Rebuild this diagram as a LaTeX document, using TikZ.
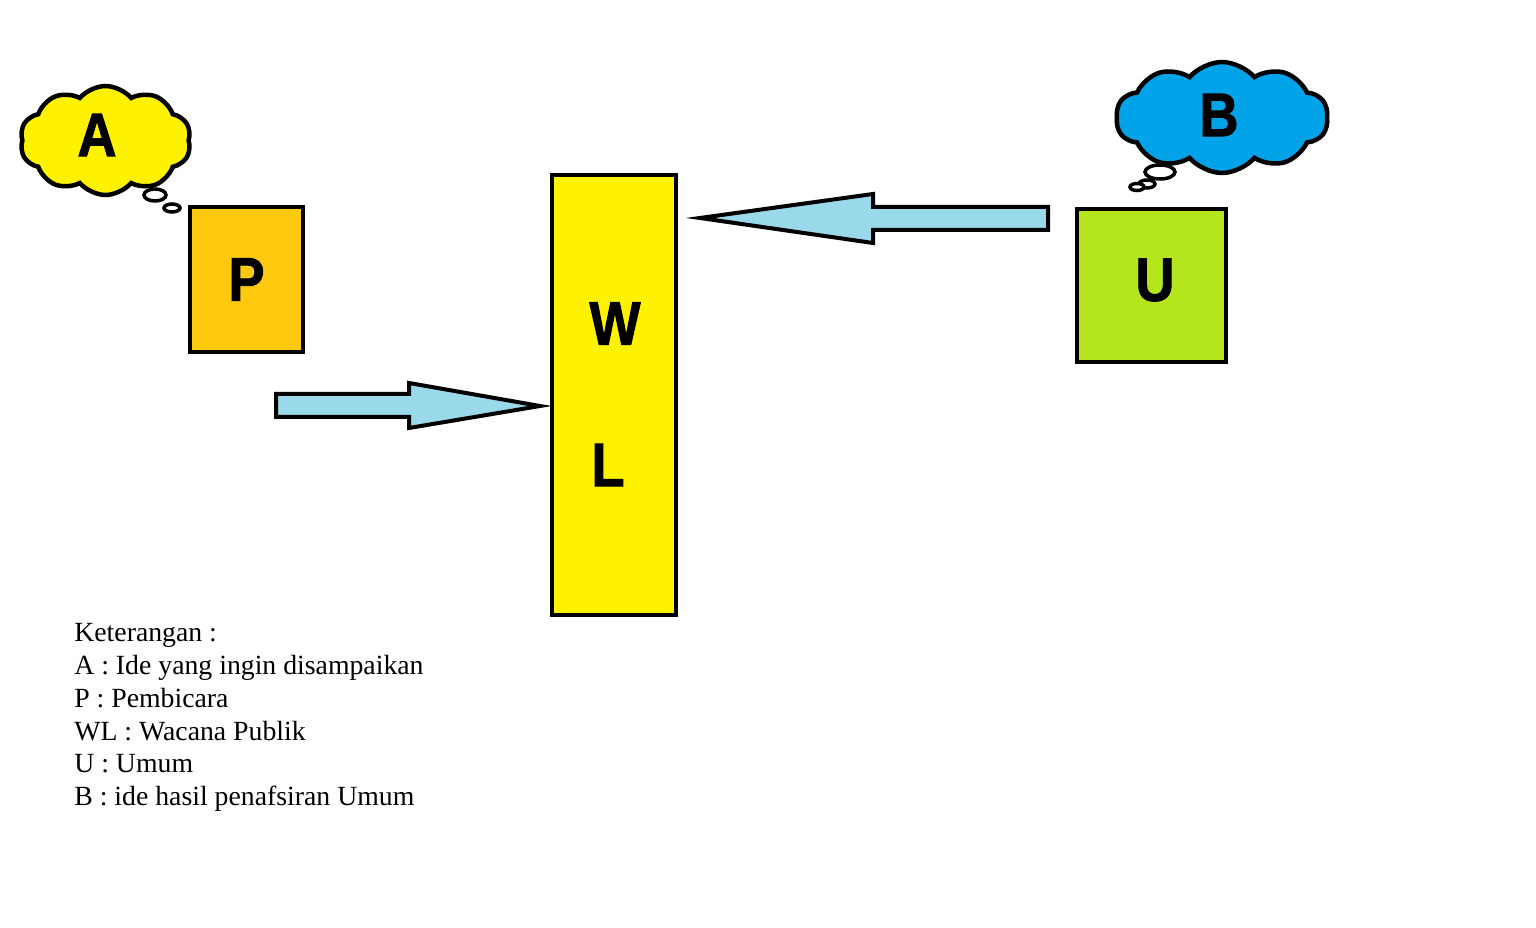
\documentclass[tikz,border=0pt]{standalone}
\usepackage{fontspec}
\setmainfont{Liberation Serif}
\newfontfamily\letterfont[FakeStretch=0.88,FakeBold=1.5]{Liberation Sans}
\usetikzlibrary{shapes.symbols}
\definecolor{pcol}{HTML}{FFC90E}
\definecolor{wlcol}{HTML}{FFF200}
\definecolor{ucol}{HTML}{B5E61D}
\definecolor{acol}{HTML}{FFF200}
\definecolor{bcol}{HTML}{00A2E8}
\definecolor{flowcol}{HTML}{99D9EA}
\begin{document}
\begin{tikzpicture}[x=0.02cm,y=-0.02cm,
    box/.style={draw,line width=0.08cm,inner sep=0pt},
    letter/.style={font=\letterfont\bfseries\fontsize{35}{40}\selectfont,inner sep=0pt},
    thought/.style={cloud,cloud puffs=10,cloud puff arc=100,draw,line width=0.09cm,inner sep=0pt},
    bubble/.style={draw,line width=0.07cm,fill=white},
    flow/.style={draw,line width=0.08cm,fill=flowcol,line join=miter}]
    \useasboundingbox (0,0) rectangle (1536,928);

    \node[box,fill=pcol,minimum width=2.26cm,minimum height=2.9cm,letter] (p) at (246.5,279.5) {P};
    \node[box,fill=wlcol,minimum width=2.48cm,minimum height=8.8cm] (wl) at (614,395) {};
    \node[letter] (w) at (615,323.5) {W};
    \node[letter] (l) at (608,465) {L};
    \node[box,fill=ucol,minimum width=2.98cm,minimum height=3.06cm] (u) at (1151.5,285.5) {};
    \node[letter] (ul) at (1155,280) {U};

    \node[thought,fill=acol,minimum width=3.42cm,minimum height=2.18cm] (ca) at (105.5,140.5) {};
    \node[letter] (a) at (97,135) {A};
    \draw[bubble] (155,195) ellipse [x radius=11, y radius=6];
    \draw[bubble] (172,208) ellipse [x radius=8, y radius=4];

    \node[thought,fill=bcol,minimum width=4.24cm,minimum height=2.22cm] (cb) at (1222,117.5) {};
    \node[letter] (b) at (1219,115) {B};
    \draw[bubble] (1160,172) ellipse [x radius=15, y radius=7];
    \draw[bubble] (1147,184) ellipse [x radius=8, y radius=4];
    \draw[bubble] (1137,187) ellipse [x radius=7, y radius=3.5];

    \draw[flow] (276,394) -- (409,394) -- (409,383) -- (540,406) -- (409,428) -- (409,417) -- (276,417) -- cycle;
    \draw[flow] (1048,207) -- (873,207) -- (873,194) -- (700,218) -- (873,243) -- (873,230) -- (1048,230) -- cycle;

    \node[anchor=north west,align=left,inner sep=0pt,font=\fontsize{15.8}{18.7}\selectfont] (key) at (74,623)
        {Keterangan :\\A : Ide yang ingin disampaikan\\P : Pembicara\\WL : Wacana Publik\\U : Umum\\B : ide hasil penafsiran Umum};
\end{tikzpicture}
\end{document}
